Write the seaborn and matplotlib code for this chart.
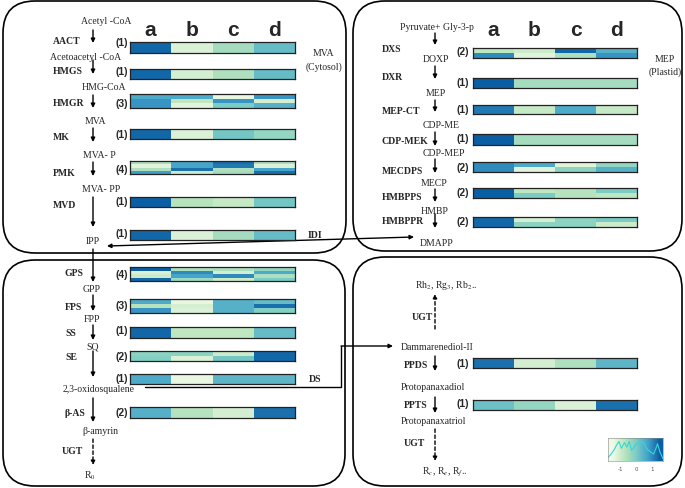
import numpy as np
import matplotlib
matplotlib.use("Agg")
import matplotlib.pyplot as plt
import seaborn as sns
from matplotlib.colors import LinearSegmentedColormap
from matplotlib.patches import FancyBboxPatch

# ---------------- data ----------------
samples = ["a", "b", "c", "d"]

# MVA (cytosol)
AACT = [[1.4, -1.2, -0.5, 0.3]]
HMGS = [[1.4, -1.1, -0.6, 0.3]]
HMGR = [[0.6, 0.6, -1.4, 0.9], [0.9, -0.8, 0.9, -1.1], [0.9, -1.3, 0.0, 0.5]]
MK = [[1.4, -1.2, 0.1, -0.3]]
PMK = [[-0.6, 0.7, 1.3, -0.6], [-1.3, 0.7, 1.2, -1.2], [-0.6, 1.3, -0.6, 0.7], [0.8, -1.0, -0.5, 1.3]]
MVD = [[1.5, -0.7, -0.9, 0.1]]
IDI = [[1.4, -1.2, -0.5, 0.3]]

# MEP (plastid)
DXS = [[-0.8, -1.0, 1.4, 0.5], [1.0, -1.3, -0.6, 0.9]]
DXR = [[1.5, -0.5, -0.5, -0.5]]
MEP_CT = [[1.2, -0.9, 0.6, -0.9]]
CDP_MEK = [[1.5, -0.5, -0.5, -0.5]]
MECDPS = [[1.0, 0.6, -1.3, -0.3], [1.0, -1.3, -0.2, 0.5]]
HMBPPS = [[1.5, -0.8, -0.7, 0.0], [1.5, 0.0, -0.7, -0.8]]
HMBPPR = [[1.4, -1.1, -0.2, 0.0], [1.4, -0.2, -0.2, -1.0]]

# triterpene backbone
GPS = [[1.5, -0.6, -0.6, -0.3], [-1.2, 1.0, -1.1, 0.6], [-1.0, 0.7, 1.0, -0.6], [1.4, -0.4, -1.0, 0.0]]
FPS = [[0.6, -1.4, 0.5, 0.3], [-0.7, -1.1, 0.5, 1.3], [0.9, -1.2, 0.5, -0.1]]
SS = [[1.4, -0.8, -0.8, 0.3]]
SE = [[-0.2, -0.2, -1.0, 1.4], [-0.1, -1.2, 0.1, 1.4]]
DS = [[0.6, -1.4, 0.4, 0.4]]
BAS = [[0.5, -0.7, -1.1, 1.3], [0.5, -0.7, -1.1, 1.3]]

# ginsenoside branch
PPDS = [[1.3, -1.1, -0.6, 0.4]]
PPTS = [[0.2, -0.3, -1.2, 1.3]]

# colour key density trace
key_x = [-1.8, -1.6, -1.4, -1.25, -1.1, -0.95, -0.75, -0.6, -0.45, -0.3, -0.15, 0.0,
         0.2, 0.4, 0.55, 0.7, 0.9, 1.1, 1.25, 1.35, 1.5, 1.7]
key_y = [0.15, 0.3, 0.5, 0.7, 0.85, 0.55, 0.8, 0.6, 0.85, 0.45, 0.6, 0.75,
         0.8, 0.85, 0.7, 0.5, 0.4, 0.3, 0.55, 0.75, 0.4, 0.1]
key_ticks = [-1, 0, 1]

# ---------------- style ----------------
W, H = 685, 489
sns.set_style("white")
plt.rcParams["mathtext.fontset"] = "stix"
fig = plt.figure(figsize=(W / 100, H / 100), dpi=100)
cmap = LinearSegmentedColormap.from_list(
    "gnbu", ["#f0f9e8", "#bae4bc", "#7bccc4", "#43a2ca", "#0a5ea3"])
VMIN, VMAX = -1.5, 1.5

SERIF = "Liberation Serif"
SANS = "Liberation Sans"

ax = fig.add_axes([0, 0, 1, 1])
ax.set_xlim(0, W)
ax.set_ylim(H, 0)
ax.axis("off")


def px_axes(x0, y0, x1, y1):
    return fig.add_axes([x0 / W, 1 - y1 / H, (x1 - x0) / W, (y1 - y0) / H])


def heat(data, x0, y0, x1, y1):
    hax = px_axes(x0, y0, x1, y1)
    sns.heatmap(np.array(data), ax=hax, cmap=cmap, vmin=VMIN, vmax=VMAX,
                cbar=False, xticklabels=False, yticklabels=False, linewidths=0)
    for s in hax.spines.values():
        s.set_visible(True)
        s.set_color("#222222")
        s.set_linewidth(0.9)
    return hax


def box(x0, y0, x1, y1):
    p = FancyBboxPatch((x0, y0), x1 - x0, y1 - y0,
                       boxstyle="round,pad=0,rounding_size=32",
                       fc="none", ec="black", lw=1.2)
    ax.add_patch(p)


def met(x, y, s, ha="center"):
    ax.text(x, y, s, ha=ha, va="center", fontsize=7, family=SERIF)


def enz(x, y, s):
    ax.text(x, y, s, ha="left", va="center", fontsize=7, family=SERIF,
            fontweight="bold")


def num(x, y, s):
    ax.text(x, y, s, ha="right", va="center", fontsize=7.5, family=SANS,
            fontweight="bold")


def arrow(x, y0, y1, dashed=False):
    ax.annotate("", xy=(x, y1), xytext=(x, y0),
                arrowprops=dict(arrowstyle="-|>", color="black", lw=1.0,
                                mutation_scale=6, shrinkA=0, shrinkB=0,
                                linestyle=(0, (2.5, 1.8)) if dashed else "-"))


def letters(xs, y):
    for x, s in zip(xs, samples):
        ax.text(x, y, s, ha="center", va="center", fontsize=15, family=SANS,
                fontweight="bold")


# ---------------- boxes ----------------
box(3, 2, 346, 254)
box(353, 2, 682, 252)
box(3, 261, 345, 487)
box(353, 258, 682, 487)

# ---------------- top-left: MVA ----------------
LX0, LX1 = 130, 295
letters([150.6, 191.9, 233.1, 274.4], 30)
met(106, 22, "Acetyl -CoA")
arrow(93, 31, 44)
enz(53, 41, "AACT"); num(128, 43, "(1)"); heat(AACT, LX0, 43, LX1, 54)
met(86, 57, "Acetoacetyl -CoA")
arrow(93, 61, 75)
enz(53, 71, "HMGS"); num(128, 72, "(1)"); heat(HMGS, LX0, 70, LX1, 80)
met(104, 87, "HMG-CoA")
arrow(93, 96, 109)
enz(53, 103, "HMGR"); num(128, 104, "(3)"); heat(HMGR, LX0, 95, LX1, 109)
met(95, 122, "MVA")
arrow(93, 129, 143)
enz(53, 138, "MK"); num(128, 135, "(1)"); heat(MK, LX0, 130, LX1, 140)
met(99, 155, "MVA- P")
arrow(93, 163, 177)
enz(53, 173, "PMK"); num(128, 170, "(4)"); heat(PMK, LX0, 162, LX1, 175)
met(101, 190, "MVA- PP")
arrow(93, 198, 228)
enz(53, 205, "MVD"); num(128, 202, "(1)"); heat(MVD, LX0, 198, LX1, 208)
num(128, 234, "(1)"); heat(IDI, LX0, 231, LX1, 241)
met(93, 241, "IPP")
ax.text(315, 235, "IDI", ha="center", va="center", fontsize=7, family=SERIF,
        fontweight="bold")
met(323, 53, "MVA")
met(324, 67, "(Cytosol)")

# IPP <-> DMAPP
ax.annotate("", xy=(107, 247), xytext=(414, 238),
            arrowprops=dict(arrowstyle="<|-|>", color="black", lw=1.0,
                            mutation_scale=6, shrinkA=0, shrinkB=0))

# ---------------- top-right: MEP ----------------
RX0, RX1 = 473, 637
letters([493.5, 534.5, 575.5, 616.5], 31)
met(437, 27, "Pyruvate+ Gly-3-p")
arrow(435, 34, 46)
enz(382, 50, "DXS"); num(469, 52, "(2)"); heat(DXS, RX0, 49, RX1, 59)
met(436, 59, "DOXP")
arrow(435, 67, 80)
enz(382, 77, "DXR"); num(469, 83, "(1)"); heat(DXR, RX0, 79, RX1, 89)
met(436, 94, "MEP")
arrow(435, 101, 113)
enz(382, 112, "MEP-CT"); num(469, 110, "(1)"); heat(MEP_CT, RX0, 106, RX1, 115)
met(441, 126, "CDP-ME")
arrow(435, 133, 147)
enz(382, 141, "CDP-MEK"); num(469, 139, "(1)"); heat(CDP_MEK, RX0, 135, RX1, 146)
met(444, 153, "CDP-MEP")
arrow(435, 160, 174)
enz(382, 171, "MECDPS"); num(469, 168, "(2)"); heat(MECDPS, RX0, 163, RX1, 173)
met(434, 183, "MECP")
arrow(435, 190, 203)
enz(382, 197, "HMBPPS"); num(469, 193, "(2)"); heat(HMBPPS, RX0, 189, RX1, 199)
met(435, 211, "HMBP")
arrow(435, 215, 229)
enz(382, 221, "HMBPPR"); num(469, 222, "(2)"); heat(HMBPPR, RX0, 218, RX1, 228)
met(437, 244, "DMAPP")
met(665, 59, "MEP")
met(665, 72, "(Plastid)")

# ---------------- bottom-left ----------------
arrow(93, 250, 283)
enz(65, 274, "GPS"); num(128, 275, "(4)"); heat(GPS, LX0, 268, LX1, 282)
met(92, 290, "GPP")
arrow(93, 296, 312)
enz(65, 307, "FPS"); num(128, 306, "(3)"); heat(FPS, LX0, 300, LX1, 314)
met(92, 320, "FPP")
arrow(93, 326, 341)
enz(65, 334, "SS"); num(128, 331, "(1)"); heat(SS, LX0, 328, LX1, 339)
met(93, 347, "SQ")
arrow(93, 352, 378)
enz(65, 357, "SE"); num(128, 357, "(2)"); heat(SE, LX0, 352, LX1, 362)
num(128, 379, "(1)"); heat(DS, LX0, 375, LX1, 385)
ax.text(315, 380, "DS", ha="center", va="center", fontsize=7, family=SERIF,
        fontweight="bold")
met(99, 390, "2,3-oxidosqualene")
arrow(93, 399, 423)
enz(65, 413, "β-AS"); num(128, 413, "(2)"); heat(BAS, LX0, 408, LX1, 419)
met(100, 432, "β-amyrin")
arrow(93, 440, 466, dashed=True)
enz(62, 452, "UGT")
met(90, 476, r"R$_{0}$")

# DS route to dammarenediol
ax.plot([145, 341, 341], [388, 388, 347], color="black", lw=1.0)
ax.annotate("", xy=(393, 347), xytext=(341, 347),
            arrowprops=dict(arrowstyle="-|>", color="black", lw=1.0,
                            mutation_scale=6, shrinkA=0, shrinkB=0))

# ---------------- bottom-right ----------------
met(446, 285, r"Rh$_{2}$, Rg$_{3}$, Rb$_{2}$..")
arrow(435, 330, 295, dashed=True)
enz(412, 318, "UGT")
met(401, 347, "Dammarenediol-II", ha="left")
arrow(435, 357, 372)
enz(404, 365, "PPDS"); num(469, 364, "(1)"); heat(PPDS, RX0, 359, RX1, 369)
met(401, 387, "Protopanaxadiol", ha="left")
arrow(435, 398, 414)
enz(404, 405, "PPTS"); num(469, 404, "(1)"); heat(PPTS, RX0, 401, RX1, 411)
met(401, 422, "Protopanaxatriol", ha="left")
arrow(435, 430, 462, dashed=True)
enz(404, 444, "UGT")
met(445, 472, r"R$_{c}$, R$_{e}$, R$_{f}$..")

# colour key
kax = px_axes(608, 439, 663, 462)
grad = np.linspace(key_x[0], key_x[-1], 200)[None, :]
kax.imshow(grad, aspect="auto", cmap=cmap, vmin=VMIN, vmax=VMAX,
           extent=[key_x[0], key_x[-1], 0, 1])
sns.lineplot(x=key_x, y=key_y, ax=kax, color="#35d6dc", lw=0.8)
kax.set_xlim(key_x[0], key_x[-1])
kax.set_ylim(0, 1)
kax.set_yticks([])
kax.set_xticks(key_ticks)
kax.set_xticklabels([str(t) for t in key_ticks], fontsize=4, color="#555555")
kax.tick_params(axis="x", length=2, width=0.5, pad=1.5, colors="#555555")
for s in kax.spines.values():
    s.set_linewidth(0.4)
    s.set_color("#888888")

fig.savefig("out.png", dpi=100)
